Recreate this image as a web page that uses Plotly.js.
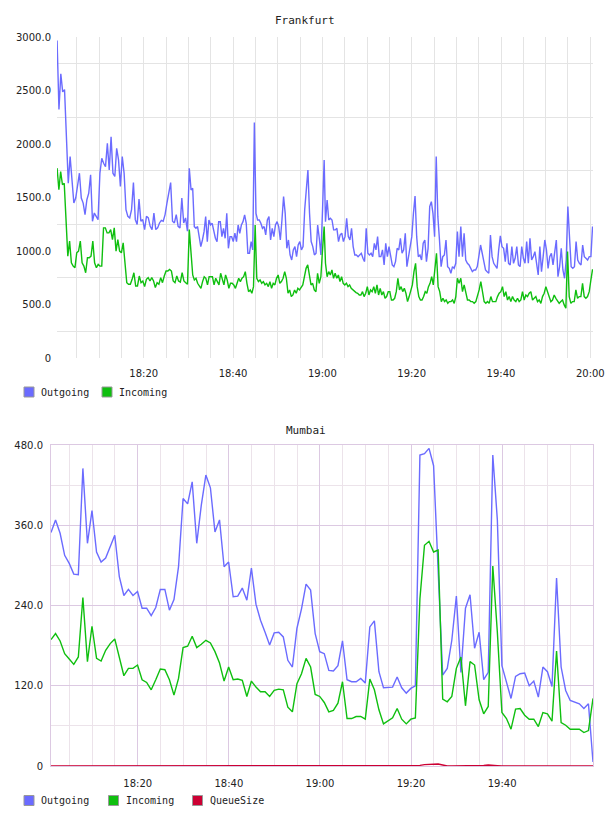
<!DOCTYPE html>
<html>
<head>
<meta charset="utf-8">
<script src="https://cdn.plot.ly/plotly-3.0.1.min.js"></script>
<style>
  html, body { margin: 0; padding: 0; background: #fff; }
  #chart { width: 608px; height: 816px; }
</style>
</head>
<body>
<div id="chart"></div>
<script>
// ---------------- Frankfurt: samples in four half-hour blocks (minutes after 18:00) ----------------
const frankfurtBlockStart = [0.6, 30.6, 60.7, 91.0];
const frankfurtBlockEnd   = [30.2, 60.4, 90.6, 120.5];

const frankfurtOutgoing = [
  [2967,2322,2657,2487,2508,2037,1634,1882,1634,1448,1495,1603,1727,1495,1448,1340,1479,1541,1712,1278,1355,1324,1293,1727,1867,1820,1789,2006,1758,2068,1727,1696,1960,1851,1603,1882,1727,1386,1324,1309,1386,1640,1293,1247,1485,1278,1293,1200,1324,1309,1231,1200,1355,1200,1216,1262,1287,1278,1340,1448,1541,1640,1278,1262,1340,1231,1216,1495,1262,1309,1185,1773],
  [1570,1586,1228,1212,1228,1134,1041,1103,1181,1321,1088,1290,1243,1259,1197,1119,1088,1274,1274,1134,1212,1119,1352,1025,1134,1134,1088,1166,1088,1243,1166,1243,1274,1337,1259,979,979,1088,1010,2200,1352,1290,1290,1259,1212,1228,1150,1290,1321,1103,1212,1134,1243,1274,1228,1103,1290,1508,1352,1025,1103,963,916,1010,1041,947,1056,1088,1010,1041,1384,1555,1757,1352,1088,1041,963,979,1243,1119,963,1384,1851],
  [1274,1477,1290,1306,1290,1197,1197,1212,1088,1150,1166,1088,1134,1306,1134,1103,1212,1041,963,963,947,963,979,932,901,1212,979,963,979,947,1072,1010,1134,947,947,1010,870,1072,947,1041,947,870,854,901,1025,1010,1119,979,1010,1166,854,947,1010,1134,1352,1514,1134,947,963,916,1072,1103,901,1025,1415,1461,1352,1134,1882,1321,1103,854,947,963,1103,854,838,792,854,838,885,1181,947],
  [1228,947,1166,916,885,870,838,807,823,823,854,979,1056,979,885,823,807,792,1150,947,885,854,838,1010,1141,1041,1025,901,1072,885,870,1041,885,932,1041,870,854,1041,932,885,1088,885,1119,916,947,994,885,776,1041,807,947,1103,1010,838,947,979,870,1010,1103,760,854,1025,823,745,916,1415,1119,854,838,854,1088,916,885,870,1056,947,932,916,947,947,1228]
];

const frankfurtIncoming = [
  [1774,1572,1743,1619,1634,1324,952,1092,890,859,844,983,999,1092,890,859,797,937,937,952,1092,890,844,875,859,859,1216,1216,1169,1169,1200,1107,1216,999,1107,999,983,1076,921,704,689,689,735,797,673,673,766,704,720,667,735,751,720,751,720,658,704,689,751,704,766,813,813,828,813,720,704,766,720,710,797,720,704,689,1200],
  [979,776,729,745,698,667,651,714,760,745,683,760,760,760,683,745,714,683,792,745,683,776,729,651,698,698,683,651,698,745,714,745,760,807,698,620,636,605,667,1243,745,714,729,698,714,683,698,667,714,651,698,683,745,776,698,714,745,807,745,605,636,574,589,636,605,651,636,667,683,760,838,870,760,683,698,636,620,792,698,760,1010,1228],
  [885,760,807,776,823,745,792,745,776,714,760,698,683,698,667,683,651,636,620,611,605,589,589,620,574,605,667,589,636,620,667,605,683,589,651,589,620,558,574,620,620,542,542,558,620,745,636,667,620,651,605,527,574,620,683,807,885,667,574,542,542,574,620,605,667,698,760,683,823,979,667,620,527,558,527,542,511,527,527,542,511,574,745,698],
  [745,620,683,620,542,542,527,527,511,527,574,636,714,620,527,511,527,511,574,527,527,527,574,605,620,667,574,620,542,574,527,574,542,527,558,527,542,620,542,589,574,605,620,542,558,574,527,542,511,574,605,667,620,574,527,542,589,558,527,511,527,542,496,465,994,574,511,527,527,636,558,574,574,698,574,558,574,620,729,829]
];

const frankfurtYTicks = [0, 500, 1000, 1500, 2000, 2500, 3000];
const frankfurtYLabels = ['0', '500.0', '1000.0', '1500.0', '2000.0', '2500.0', '3000.0'];
const frankfurtYGrid = [250, 750, 1250, 1750, 2250, 2750];

// ---------------- Mumbai: one sample per minute, first one at 18:00:57 ----------------
const mumbaiFirstMinute = 0.95;
const mumbaiOutgoing = [
  349,368,348,315,303,287,286,445,333,382,320,305,311,328,345,283,255,264,255,261,
  236,236,225,237,264,264,233,249,298,400,392,425,333,390,435,416,350,368,298,305,
  253,254,266,248,296,242,218,200,181,199,200,193,158,148,206,235,272,263,198,171,
  168,143,142,150,187,129,126,126,131,124,208,217,141,117,117,118,133,117,109,116,
  120,465,467,475,449,300,136,146,188,254,140,236,256,176,200,129,140,465,368,150,
  125,101,134,138,139,120,127,103,148,141,119,281,148,113,98,95,93,86,93,6
];
const mumbaiIncoming = [
  189,198,187,168,160,152,163,252,156,209,161,157,173,183,190,163,135,146,146,151,
  129,125,114,129,145,144,129,106,131,177,179,194,177,182,188,184,171,154,127,148,
  129,130,128,104,127,118,111,111,104,113,115,114,88,81,123,138,161,148,107,104,
  95,81,83,94,126,71,71,74,74,70,130,114,84,63,67,72,86,70,63,70,
  72,250,330,336,320,323,100,96,104,146,163,90,156,151,99,78,89,299,200,80,
  71,55,85,86,76,70,70,59,80,78,67,172,65,61,55,55,55,50,53,101
];
const mumbaiQueueSize = [
  0,0,0,0,0,0,0,0,0,0,0,0,0,0,0,0,0,0,0,0,
  0,0,0,0,0,0,0,0,0,0,0,0,0,0,0,0,0,0,0,0,
  0,0,0,0,0,0,0,0,0,0,0,0,0,0,0,0,0,0,0,0,
  0,0,0,0,0,0,0,0,0,0,0,0,0,0,0,0,0,0,0,0,
  0,1,2,2.5,3,3,1.5,0,0,0,0,0,0,0,0.5,1,1.5,1.5,0.5,0,
  0,0,0,0,0,0,0,0,0,0,0,0.5,0,0,0,0,0,0,0,0
];
const mumbaiYTicks = [0, 120, 240, 360, 480];
const mumbaiYLabels = ['0', '120.0', '240.0', '360.0', '480.0'];
const mumbaiYGrid = [60, 180, 300, 420];

const seriesNames = ['Outgoing', 'Incoming', 'QueueSize'];
const seriesColors = ['#6b6bff', '#0fbf0f', '#cc0033'];

// ---------------- helpers ----------------
const BASE = Date.UTC(2024, 0, 1, 18, 0, 0);
const MIN = 60000;
const W = 608, H = 816;
const px = v => v / W;
const py = v => 1 - v / H;

function blockTimes(starts, ends, blocks) {
  const t = [];
  blocks.forEach((vals, b) => {
    const n = vals.length;
    for (let i = 0; i < n; i++) {
      t.push(BASE + (starts[b] + i * (ends[b] - starts[b]) / (n - 1)) * MIN);
    }
  });
  return t;
}
const flat = blocks => [].concat(...blocks);

const fOutX = blockTimes(frankfurtBlockStart, frankfurtBlockEnd, frankfurtOutgoing);
const fInX = blockTimes(frankfurtBlockStart, frankfurtBlockEnd, frankfurtIncoming);
const mX = mumbaiOutgoing.map((_, i) => BASE + (mumbaiFirstMinute + i) * MIN);

const lineW = 1.4;
const traces = [
  { x: fOutX, y: flat(frankfurtOutgoing), xaxis: 'x', yaxis: 'y', type: 'scatter', mode: 'lines',
    line: { color: seriesColors[0], width: lineW }, name: seriesNames[0], showlegend: false, hoverinfo: 'skip' },
  { x: fInX, y: flat(frankfurtIncoming), xaxis: 'x', yaxis: 'y', type: 'scatter', mode: 'lines',
    line: { color: seriesColors[1], width: lineW }, name: seriesNames[1], showlegend: false, hoverinfo: 'skip' },
  { x: mX, y: mumbaiOutgoing, xaxis: 'x2', yaxis: 'y2', type: 'scatter', mode: 'lines',
    line: { color: seriesColors[0], width: lineW }, name: seriesNames[0], showlegend: false, hoverinfo: 'skip' },
  { x: mX, y: mumbaiIncoming, xaxis: 'x2', yaxis: 'y2', type: 'scatter', mode: 'lines',
    line: { color: seriesColors[1], width: lineW }, name: seriesNames[1], showlegend: false, hoverinfo: 'skip' },
  { x: mX, y: mumbaiQueueSize, xaxis: 'x2', yaxis: 'y2', type: 'scatter', mode: 'lines',
    line: { color: seriesColors[2], width: lineW }, name: seriesNames[2], showlegend: false, hoverinfo: 'skip', cliponaxis: false }
];

const tickFont = { family: 'DejaVu Sans', size: 10, color: '#222' };
const monoFont = { family: 'DejaVu Sans Mono', size: 10, color: '#222' };
const titleFont = { family: 'DejaVu Sans Mono', size: 11, color: '#222' };

const fGrid = '#e4e4e4';
const mMajor = '#dcc9e2';
const mMinor = '#ece3ea';

// legends: coloured boxes with a grey outline, labels beside them
const shapes = [];
const annotations = [];
function legendItem(xBox, yMid, color, label) {
  shapes.push({ type: 'rect', xref: 'paper', yref: 'paper',
    x0: px(xBox), x1: px(xBox + 10), y0: py(yMid + 5), y1: py(yMid - 5),
    fillcolor: color, line: { color: '#999', width: 1 } });
  annotations.push({ xref: 'paper', yref: 'paper', x: px(xBox + 15), y: py(yMid),
    xanchor: 'left', yanchor: 'middle', showarrow: false, text: label, font: monoFont });
}
legendItem(24, 392, seriesColors[0], seriesNames[0]);
legendItem(102, 392, seriesColors[1], seriesNames[1]);
legendItem(24, 800.5, seriesColors[0], seriesNames[0]);
legendItem(108.5, 800.5, seriesColors[1], seriesNames[1]);
legendItem(192.5, 800.5, seriesColors[2], seriesNames[2]);

annotations.push({ xref: 'paper', yref: 'paper', x: px(305), y: py(20), xanchor: 'center', yanchor: 'middle',
  showarrow: false, text: 'Frankfurt', font: titleFont });
annotations.push({ xref: 'paper', yref: 'paper', x: px(306), y: py(430), xanchor: 'center', yanchor: 'middle',
  showarrow: false, text: 'Mumbai', font: titleFont });

const layout = {
  width: W, height: H,
  margin: { l: 0, r: 0, t: 0, b: 0, pad: 0 },
  paper_bgcolor: '#fff', plot_bgcolor: '#fff',
  showlegend: false,
  xaxis: {
    domain: [px(57), px(593)], anchor: 'y', type: 'date',
    range: [BASE + 0.58 * MIN, BASE + 120.6 * MIN],
    tickmode: 'linear', tick0: BASE, dtick: 20 * MIN, tickformat: '%H:%M',
    ticks: '', ticklabelstandoff: 8, tickfont: tickFont,
    showgrid: true, gridcolor: fGrid, gridwidth: 1,
    minor: { tick0: BASE, dtick: 5 * MIN, showgrid: true, gridcolor: fGrid, gridwidth: 1 },
    showline: false, zeroline: false, fixedrange: true
  },
  yaxis: {
    domain: [py(358), py(37)], anchor: 'x', range: [0, 3000],
    tickmode: 'array', tickvals: frankfurtYTicks, ticktext: frankfurtYLabels,
    ticks: '', ticklabelstandoff: 5, tickfont: tickFont,
    showgrid: false,
    minor: { tickmode: 'array', tickvals: frankfurtYGrid, showgrid: true, gridcolor: fGrid, gridwidth: 1 },
    showline: false, zeroline: false, fixedrange: true
  },
  xaxis2: {
    domain: [px(51), px(593)], anchor: 'y2', type: 'date',
    range: [BASE + mumbaiFirstMinute * MIN, BASE + (mumbaiFirstMinute + 119) * MIN],
    tickmode: 'linear', tick0: BASE, dtick: 20 * MIN, tickformat: '%H:%M',
    ticks: '', ticklabelstandoff: 8, tickfont: tickFont,
    showgrid: true, gridcolor: mMajor, gridwidth: 1,
    minor: { tick0: BASE, dtick: 5 * MIN, showgrid: true, gridcolor: mMinor, gridwidth: 1 },
    showline: true, mirror: true, linecolor: mMajor, linewidth: 1,
    zeroline: false, fixedrange: true
  },
  yaxis2: {
    domain: [py(766), py(445)], anchor: 'x2', range: [0, 480],
    tickmode: 'array', tickvals: mumbaiYTicks, ticktext: mumbaiYLabels,
    ticks: '', ticklabelstandoff: 5, tickfont: tickFont,
    showgrid: true, gridcolor: mMajor, gridwidth: 1,
    minor: { tickmode: 'array', tickvals: mumbaiYGrid, showgrid: true, gridcolor: mMinor, gridwidth: 1 },
    showline: true, mirror: true, linecolor: mMajor, linewidth: 1,
    zeroline: false, fixedrange: true
  },
  shapes: shapes,
  annotations: annotations
};

Plotly.newPlot('chart', traces, layout, { displayModeBar: false, staticPlot: true });
</script>
</body>
</html>
